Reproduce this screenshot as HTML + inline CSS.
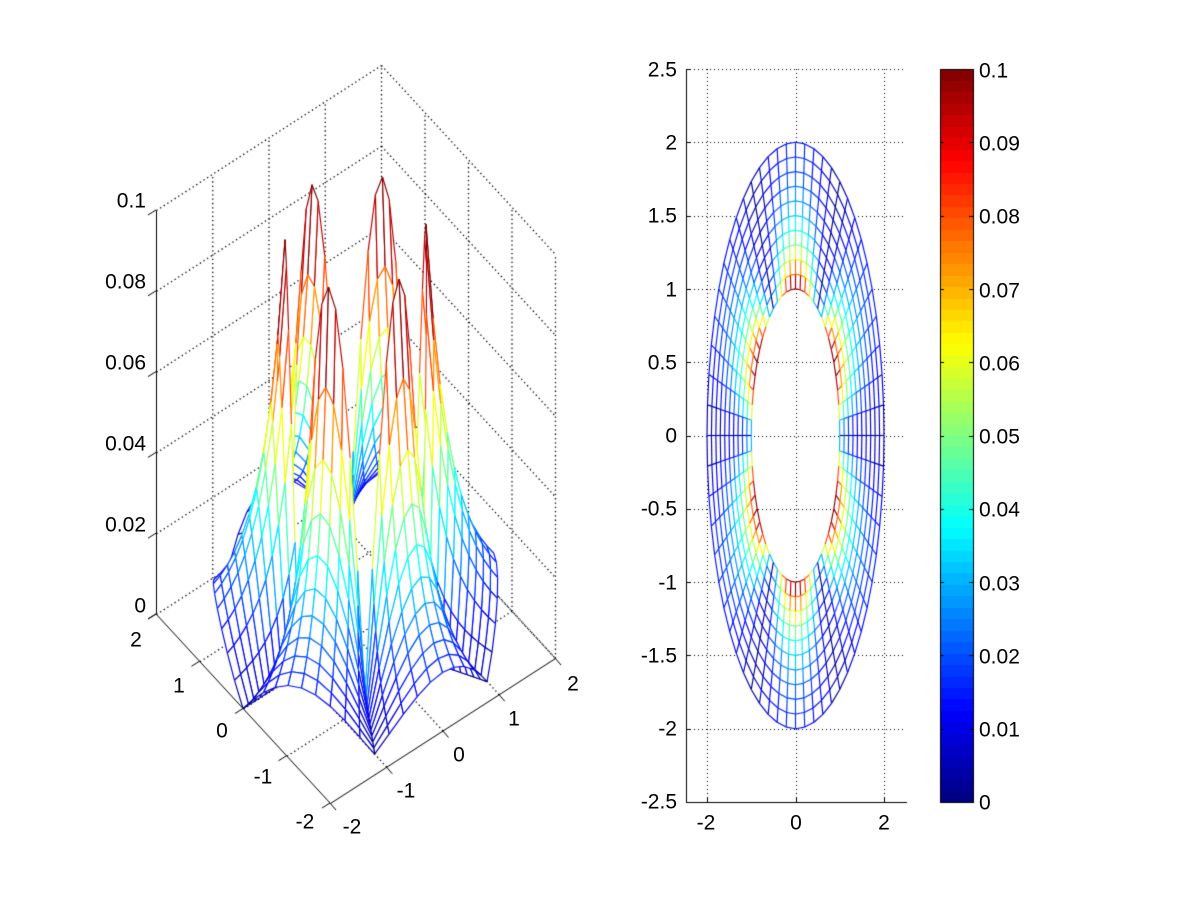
<!DOCTYPE html>
<html><head><meta charset="utf-8">
<style>
html,body{margin:0;padding:0;background:#fff;}
#wrap{position:relative;width:1201px;height:901px;overflow:hidden;background:#fff;font-family:"Liberation Sans",Arial,sans-serif;font-size:21px;color:#000;}
canvas{position:absolute;left:0;top:0;}
.t{position:absolute;white-space:nowrap;line-height:1;}
.c{transform:translate(-50%,-50%);}
.r{transform:translate(-100%,-50%);}
.l{transform:translate(0,-50%);}
</style></head><body>
<div id="wrap">
<canvas id="cv" width="1201" height="901"></canvas>
<div class="t r" style="left:146px;top:201px">0.1</div>
<div class="t r" style="left:146px;top:282px">0.08</div>
<div class="t r" style="left:146px;top:363px">0.06</div>
<div class="t r" style="left:146px;top:444px">0.04</div>
<div class="t r" style="left:146px;top:525px">0.02</div>
<div class="t r" style="left:146px;top:606px">0</div>
<div class="t c" style="left:136px;top:640px">2</div>
<div class="t c" style="left:179px;top:686px">1</div>
<div class="t c" style="left:222px;top:731px">0</div>
<div class="t c" style="left:263px;top:777px">-1</div>
<div class="t c" style="left:305px;top:822px">-2</div>
<div class="t c" style="left:352px;top:827px">-2</div>
<div class="t c" style="left:406px;top:791px">-1</div>
<div class="t c" style="left:459px;top:755px">0</div>
<div class="t c" style="left:514px;top:719px">1</div>
<div class="t c" style="left:573px;top:684px">2</div>
<div class="t r" style="left:677px;top:70px">2.5</div>
<div class="t r" style="left:677px;top:143px">2</div>
<div class="t r" style="left:677px;top:216px">1.5</div>
<div class="t r" style="left:677px;top:290px">1</div>
<div class="t r" style="left:677px;top:363px">0.5</div>
<div class="t r" style="left:677px;top:436px">0</div>
<div class="t r" style="left:677px;top:509px">-0.5</div>
<div class="t r" style="left:677px;top:583px">-1</div>
<div class="t r" style="left:677px;top:656px">-1.5</div>
<div class="t r" style="left:677px;top:729px">-2</div>
<div class="t r" style="left:677px;top:802px">-2.5</div>
<div class="t c" style="left:706px;top:823px">-2</div>
<div class="t c" style="left:796px;top:823px">0</div>
<div class="t c" style="left:884px;top:823px">2</div>
<div class="t l" style="left:979px;top:71px">0.1</div>
<div class="t l" style="left:979px;top:144px">0.09</div>
<div class="t l" style="left:979px;top:217px">0.08</div>
<div class="t l" style="left:979px;top:291px">0.07</div>
<div class="t l" style="left:979px;top:364px">0.06</div>
<div class="t l" style="left:979px;top:437px">0.05</div>
<div class="t l" style="left:979px;top:510px">0.04</div>
<div class="t l" style="left:979px;top:584px">0.03</div>
<div class="t l" style="left:979px;top:657px">0.02</div>
<div class="t l" style="left:979px;top:730px">0.01</div>
<div class="t l" style="left:979px;top:803px">0</div>
</div>
<script>
(function(){
var cv=document.getElementById('cv'),ctx=cv.getContext('2d');
ctx.fillStyle='#fff';ctx.fillRect(0,0,1201,901);
function cl(v){return Math.max(0,Math.min(1,v));}
function jet(v){var t=Math.min(Math.max(v/0.1,0),0.99999);var i=Math.floor(t*64);t=(i+0.5)/64;
 var r=cl(1.5-Math.abs(4*t-3)),g=cl(1.5-Math.abs(4*t-2)),b=cl(1.5-Math.abs(4*t-1));
 return 'rgb('+Math.round(r*255)+','+Math.round(g*255)+','+Math.round(b*255)+')';}
function f(r,th){return 0.1*Math.abs(Math.sin(3*th))/Math.pow(r,2.8);}
function line(x1,y1,x2,y2){ctx.beginPath();ctx.moveTo(x1,y1);ctx.lineTo(x2,y2);ctx.stroke();}
var NT=60,NR=11;
var pts=[];
for(var i=0;i<=NT;i++){pts[i]=[];for(var j=0;j<NR;j++){var th=i*2*Math.PI/NT,r=1+j*0.1;
 pts[i][j]={x:r*Math.cos(th),y:r*Math.sin(th),z:f(r,th)};}}

var F=[330,803],UX=[225,-145],UY=[-174,-189],ZS=4040;
function P(x,y,z){var a=(x+2)/4,b=(y+2)/4;return [F[0]+a*UX[0]+b*UY[0],F[1]+a*UX[1]+b*UY[1]-z*ZS];}
ctx.strokeStyle='#000';ctx.lineWidth=1.3;ctx.setLineDash([1.3,3]);
function L3(a,b){var p=P(a[0],a[1],a[2]),q=P(b[0],b[1],b[2]);line(p[0]+.5,p[1]+.5,q[0]+.5,q[1]+.5);}
var zt=[0,0.02,0.04,0.06,0.08,0.1];
zt.forEach(function(z){L3([-2,2,z],[2,2,z]);L3([2,2,z],[2,-2,z]);});
[-1,0,1,2].forEach(function(x){L3([x,2,0],[x,2,0.1]);L3([x,-2,0],[x,2,0]);});
[-1,0,1].forEach(function(y){L3([2,y,0],[2,y,0.1]);L3([-2,y,0],[2,y,0]);});
L3([2,-2,0],[2,-2,0.1]);
ctx.setLineDash([]);ctx.lineWidth=1;
L3([-2,2,0],[-2,2,0.1]);L3([-2,2,0],[-2,-2,0]);L3([-2,-2,0],[2,-2,0]);
[-2,-1,0,1,2].forEach(function(v){
 var p=P(v,-2,0);line(p[0],p[1],p[0]+6,p[1]+7);
 var q=P(-2,v,0);line(q[0],q[1],q[0]-8,q[1]+5);});
zt.forEach(function(z){var p=P(-2,2,z);line(p[0],p[1],p[0]-8,p[1]+5);});
var quads=[];
for(var i=0;i<NT;i++)for(var j=0;j<NR-1;j++){
 var v=[pts[i][j],pts[i+1][j],pts[i+1][j+1],pts[i][j+1]];var d=0;
 v.forEach(function(p){var a=(p.x+2)/4,b=(p.y+2)/4;d+=0.70*a+0.90*b-0.69*(p.z/0.1);});
 quads.push({v:v,d:d});}
quads.sort(function(a,b){return b.d-a.d;});
ctx.lineWidth=1.15;
quads.forEach(function(q){
 var s=q.v.map(function(p){return P(p.x,p.y,p.z);});
 ctx.fillStyle='#fff';ctx.beginPath();ctx.moveTo(s[0][0],s[0][1]);for(var k=1;k<4;k++)ctx.lineTo(s[k][0],s[k][1]);ctx.closePath();ctx.fill();
 for(var k=0;k<4;k++){var a=q.v[k],b=q.v[(k+1)%4];ctx.strokeStyle=jet(Math.max(a.z,b.z));
  line(s[k][0],s[k][1],s[(k+1)%4][0],s[(k+1)%4][1]);}
});

function px(x){return 795.5+x*44.25;} function py(y){return 435.5-y*146.6;}
ctx.strokeStyle='#000';ctx.lineWidth=1;ctx.setLineDash([1,3]);
[-2,0,2].forEach(function(x){line(Math.round(px(x))+.5,69,Math.round(px(x))+.5,802);});
for(var y=-2;y<=2.5;y+=0.5){line(686,Math.round(py(y))+.5,906,Math.round(py(y))+.5);}
ctx.setLineDash([]);
line(686.5,69,686.5,802.5);line(686,802.5,907,802.5);
[-2,0,2].forEach(function(x){var X=Math.round(px(x))+.5;line(X,802,X,797);});
for(var y=-2.5;y<=2.5;y+=0.5){var Y=Math.round(py(y))+.5;line(686,Y,691,Y);}
ctx.fillStyle='#fff';ctx.beginPath();
ctx.ellipse(px(0),py(0),2*44.25,2*146.6,0,0,2*Math.PI);
ctx.ellipse(px(0),py(0),44.25,146.6,0,0,2*Math.PI,true);ctx.fill('evenodd');
ctx.lineWidth=1.15;
for(var i=0;i<NT;i++)for(var j=0;j<NR;j++){
 var a=pts[i][j],b=pts[i+1][j];ctx.strokeStyle=jet(Math.max(a.z,b.z));line(px(a.x),py(a.y),px(b.x),py(b.y));
 if(j<NR-1){var c=pts[i][j+1];ctx.strokeStyle=jet(Math.max(a.z,c.z));line(px(a.x),py(a.y),px(c.x),py(c.y));}
}
ctx.lineWidth=1;
var cx0=940,cx1=973,cy0=69,cy1=802;
for(var k=0;k<64;k++){var y0=cy1-(k+1)*(cy1-cy0)/64,y1=cy1-k*(cy1-cy0)/64;
 ctx.fillStyle=jet((k+0.5)/64*0.1);ctx.fillRect(cx0,Math.floor(y0),cx1-cx0,Math.ceil(y1)-Math.floor(y0));}
ctx.strokeStyle='#000';ctx.strokeRect(cx0+.5,cy0+.5,cx1-cx0,cy1-cy0);
for(var k=0;k<=10;k++){var Y=Math.round(cy1-k*(cy1-cy0)/10)+.5;line(cx0,Y,cx0+4,Y);line(cx1-4,Y,cx1,Y);}
})();
</script>
</body></html>
